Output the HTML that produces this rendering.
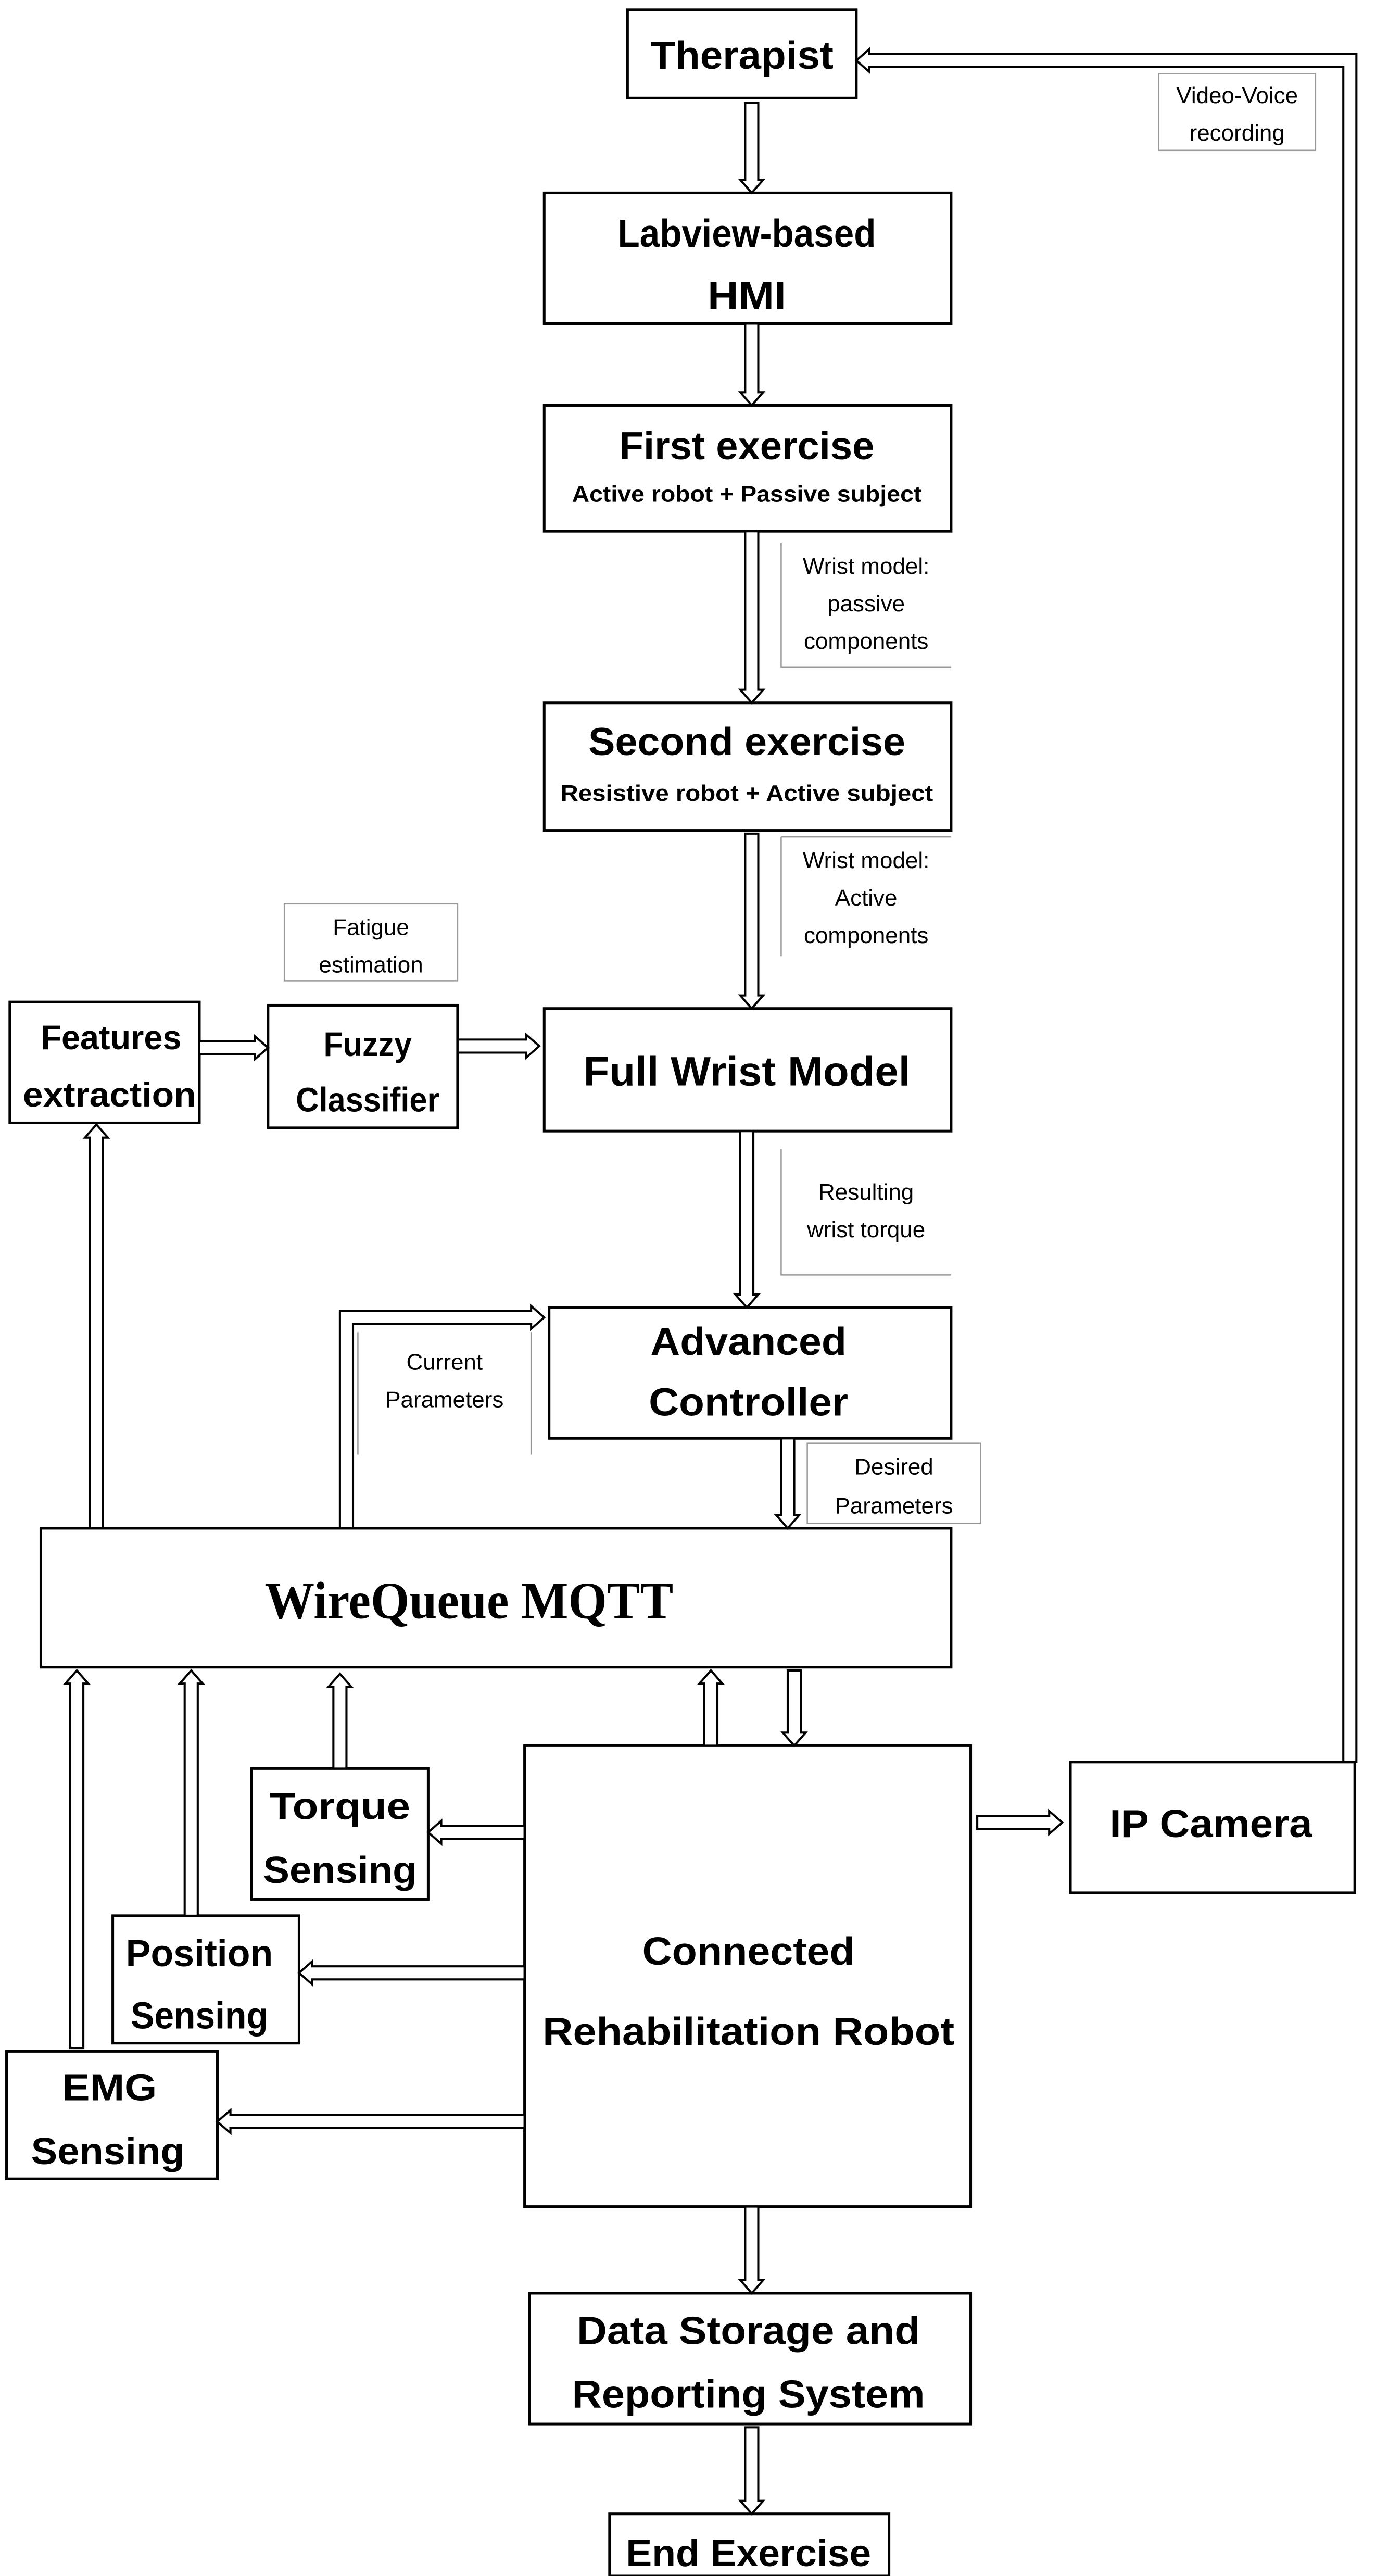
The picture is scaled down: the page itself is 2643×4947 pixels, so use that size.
<!DOCTYPE html>
<html><head><meta charset="utf-8">
<style>
html,body{margin:0;padding:0;background:#fff;}
svg{display:block;}
.b{fill:#fff;stroke:#000;stroke-width:1.6;}
.a{fill:#fff;stroke:#000;stroke-width:1.3;}
.t{font-family:"Liberation Sans Narrow","Liberation Sans",sans-serif;font-weight:bold;fill:#000;text-anchor:middle;}
.l{font-family:"Liberation Sans Narrow","Liberation Sans",sans-serif;fill:#000;text-anchor:middle;font-size:14px;}
.lb{fill:none;stroke:#999;stroke-width:0.8;}
</style></head>
<body>
<svg width="2643" height="4947" viewBox="0 0 842 1576" preserveAspectRatio="none" xmlns="http://www.w3.org/2000/svg">
<rect x="0" y="0" width="842" height="1576" fill="#fff"/>

<rect class="b" x="384" y="6" width="140" height="54"/>
<text class="t" x="454" y="42" font-size="24" textLength="112" lengthAdjust="spacingAndGlyphs">Therapist</text>

<rect class="b" x="333" y="118" width="249" height="80"/>
<text class="t" x="457" y="151" font-size="24" textLength="158" lengthAdjust="spacingAndGlyphs">Labview-based</text>
<text class="t" x="457" y="189" font-size="24" textLength="48" lengthAdjust="spacingAndGlyphs">HMI</text>

<rect class="b" x="333" y="248" width="249" height="77"/>
<text class="t" x="457" y="281" font-size="24" textLength="156" lengthAdjust="spacingAndGlyphs">First exercise</text>
<text class="t" x="457" y="307" font-size="14" textLength="214" lengthAdjust="spacingAndGlyphs">Active robot + Passive subject</text>

<rect class="b" x="333" y="430" width="249" height="78"/>
<text class="t" x="457" y="462" font-size="24" textLength="194" lengthAdjust="spacingAndGlyphs">Second exercise</text>
<text class="t" x="457" y="490" font-size="14" textLength="228" lengthAdjust="spacingAndGlyphs">Resistive robot + Active subject</text>

<rect class="b" x="6" y="613" width="116" height="74"/>
<text class="t" x="68" y="642" font-size="21" textLength="86" lengthAdjust="spacingAndGlyphs">Features</text>
<text class="t" x="67" y="677" font-size="21" textLength="106" lengthAdjust="spacingAndGlyphs">extraction</text>

<rect class="b" x="164" y="615" width="116" height="75"/>
<text class="t" x="225" y="646" font-size="21" textLength="54" lengthAdjust="spacingAndGlyphs">Fuzzy</text>
<text class="t" x="225" y="680" font-size="21" textLength="88" lengthAdjust="spacingAndGlyphs">Classifier</text>

<rect class="b" x="333" y="617" width="249" height="75"/>
<text class="t" x="457" y="664" font-size="25" textLength="200" lengthAdjust="spacingAndGlyphs">Full Wrist Model</text>

<rect class="b" x="336" y="800" width="246" height="80"/>
<text class="t" x="458" y="829" font-size="24" textLength="120" lengthAdjust="spacingAndGlyphs">Advanced</text>
<text class="t" x="458" y="866" font-size="24" textLength="122" lengthAdjust="spacingAndGlyphs">Controller</text>

<rect class="b" x="25" y="935" width="557" height="85"/>
<text x="287" y="990" font-family="'Liberation Serif',serif" font-weight="bold" font-size="32" text-anchor="middle" textLength="250" lengthAdjust="spacingAndGlyphs">WireQueue MQTT</text>

<rect class="b" x="321" y="1068" width="273" height="282"/>
<text class="t" x="458" y="1202" font-size="24" textLength="130" lengthAdjust="spacingAndGlyphs">Connected</text>
<text class="t" x="458" y="1251" font-size="24" textLength="252" lengthAdjust="spacingAndGlyphs">Rehabilitation Robot</text>

<rect class="b" x="154" y="1082" width="108" height="80"/>
<text class="t" x="208" y="1113" font-size="23" textLength="86" lengthAdjust="spacingAndGlyphs">Torque</text>
<text class="t" x="208" y="1152" font-size="23" textLength="94" lengthAdjust="spacingAndGlyphs">Sensing</text>

<rect class="b" x="69" y="1172" width="114" height="78"/>
<text class="t" x="122" y="1203" font-size="23" textLength="90" lengthAdjust="spacingAndGlyphs">Position</text>
<text class="t" x="122" y="1241" font-size="23" textLength="84" lengthAdjust="spacingAndGlyphs">Sensing</text>

<rect class="b" x="4" y="1255" width="129" height="78"/>
<text class="t" x="67" y="1285" font-size="23" textLength="58" lengthAdjust="spacingAndGlyphs">EMG</text>
<text class="t" x="66" y="1324" font-size="23" textLength="94" lengthAdjust="spacingAndGlyphs">Sensing</text>

<rect class="b" x="655" y="1078" width="174" height="80"/>
<text class="t" x="741" y="1124" font-size="24" textLength="124" lengthAdjust="spacingAndGlyphs">IP Camera</text>

<rect class="b" x="324" y="1403" width="270" height="80"/>
<text class="t" x="458" y="1434" font-size="24" textLength="210" lengthAdjust="spacingAndGlyphs">Data Storage and</text>
<text class="t" x="458" y="1473" font-size="24" textLength="216" lengthAdjust="spacingAndGlyphs">Reporting System</text>

<rect class="b" x="373" y="1538" width="171" height="38"/>
<text class="t" x="458" y="1570" font-size="23" textLength="150" lengthAdjust="spacingAndGlyphs">End Exercise</text>

<rect class="lb" x="709" y="45" width="96" height="47"/>
<text class="l" x="757" y="63">Video-Voice</text>
<text class="l" x="757" y="86">recording</text>

<path class="lb" d="M478 332 V408 H582"/>
<text class="l" x="530" y="351">Wrist model:</text>
<text class="l" x="530" y="374">passive</text>
<text class="l" x="530" y="397">components</text>

<path class="lb" d="M478 512 V585 M478 512 H582"/>
<text class="l" x="530" y="531">Wrist model:</text>
<text class="l" x="530" y="554">Active</text>
<text class="l" x="530" y="577">components</text>

<rect class="lb" x="174" y="553" width="106" height="47"/>
<text class="l" x="227" y="572">Fatigue</text>
<text class="l" x="227" y="595">estimation</text>

<path class="lb" d="M478 703 V780 H582"/>
<text class="l" x="530" y="734">Resulting</text>
<text class="l" x="530" y="757">wrist torque</text>

<path class="lb" d="M219 815 V890 M325 815 V890"/>
<text class="l" x="272" y="838">Current</text>
<text class="l" x="272" y="861">Parameters</text>

<rect class="lb" x="494" y="883" width="106" height="49"/>
<text class="l" x="547" y="902">Desired</text>
<text class="l" x="547" y="926">Parameters</text>

<polygon class="a" points="456,63 464,63 464,110 467,110 460,118 453,110 456,110"/>
<polygon class="a" points="456,198 464,198 464,240 467,240 460,248 453,240 456,240"/>
<polygon class="a" points="456,325 464,325 464,422 467,422 460,430 453,422 456,422"/>
<polygon class="a" points="456,510 464,510 464,609 467,609 460,617 453,609 456,609"/>
<polygon class="a" points="453,692 461,692 461,792 464,792 457,800 450,792 453,792"/>
<polygon class="a" points="478,880 486,880 486,927 489,927 482,935 475,927 478,927"/>
<polygon class="a" points="482,1022 490,1022 490,1060 493,1060 486,1068 479,1060 482,1060"/>
<polygon class="a" points="456,1350 464,1350 464,1395 467,1395 460,1403 453,1395 456,1395"/>
<polygon class="a" points="456,1485 464,1485 464,1530 467,1530 460,1538 453,1530 456,1530"/>

<polygon class="a" points="55,935 63,935 63,696 66,696 59,688 52,696 55,696"/>
<polygon class="a" points="43,1253 51,1253 51,1030 54,1030 47,1022 40,1030 43,1030"/>
<polygon class="a" points="113,1172 121,1172 121,1030 124,1030 117,1022 110,1030 113,1030"/>
<polygon class="a" points="204,1082 212,1082 212,1032 215,1032 208,1024 201,1032 204,1032"/>
<polygon class="a" points="431,1068 439,1068 439,1030 442,1030 435,1022 428,1030 431,1030"/>

<polygon class="a" points="122,637 156,637 156,634 164,641 156,648 156,645 122,645"/>
<polygon class="a" points="280,636 322,636 322,633 330,640 322,647 322,644 280,644"/>
<polygon class="a" points="321,1117 270,1117 270,1114 262,1121 270,1128 270,1125 321,1125"/>
<polygon class="a" points="321,1203 191,1203 191,1200 183,1207 191,1214 191,1211 321,1211"/>
<polygon class="a" points="321,1294 141,1294 141,1291 133,1298 141,1305 141,1302 321,1302"/>
<polygon class="a" points="598,1111 642,1111 642,1108 650,1115 642,1122 642,1119 598,1119"/>

<polygon class="a" points="208,935 216,935 216,810 325,810 325,813 333,806 325,799 325,802 208,802"/>

<polygon class="a" points="830,1078 830,33 532,33 532,30 524,37 532,44 532,41 822,41 822,1078"/>
</svg>
</body></html>
